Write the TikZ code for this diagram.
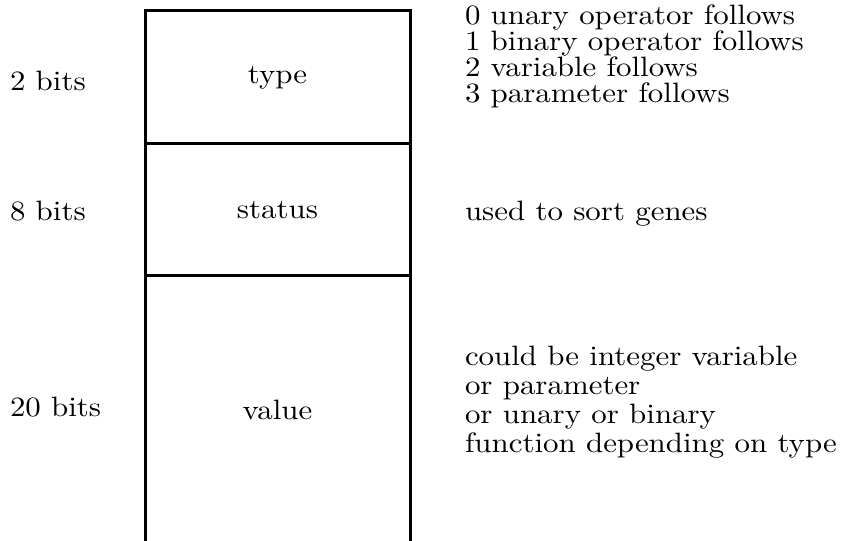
\documentclass[tikz,border=0pt]{standalone}
\begin{document}
\begin{tikzpicture}[x=1pt,y=-1pt,
  txt/.style={inner sep=0pt, outer sep=0pt, xscale=3.09, yscale=2.8, font=\fontsize{10}{12}\selectfont},
  lefttxt/.style={txt, anchor=base west},
  midtxt/.style={txt, anchor=base},
  frame/.style={line width=3pt, line join=miter}]
\useasboundingbox (0,0) rectangle (844,541);
% record frame
\coordinate (bl) at (145,545);
\coordinate (tl) at (145,10);
\coordinate (tr) at (410,10);
\coordinate (br) at (410,545);
\coordinate (d1l) at (145,143.5);
\coordinate (d1r) at (410,143.5);
\coordinate (d2l) at (145,275.5);
\coordinate (d2r) at (410,275.5);
\draw[frame] (bl) -- (tl) -- (tr) -- (br);
\draw[frame] (d1l) -- (d1r);
\draw[frame] (d2l) -- (d2r);
% field names
\node[midtxt] (ftype) at (277.5,83) {type};
\node[midtxt] (fstatus) at (277.5,218) {status};
\node[midtxt] (fvalue) at (277.5,419) {value};
% sizes
\node[lefttxt] (s1) at (10,90) {2 bits};
\node[lefttxt] (s2) at (10,220) {8 bits};
\node[lefttxt] (s3) at (10,416) {20 bits};
% descriptions
\node[lefttxt] (t0) at (465,24) {0 unary operator follows};
\node[lefttxt] (t1) at (465,50) {1 binary operator follows};
\node[lefttxt] (t2) at (465,76) {2 variable follows};
\node[lefttxt] (t3) at (465,102) {3 parameter follows};
\node[lefttxt] (u0) at (465,220) {used to sort genes};
\node[lefttxt] (v0) at (465,365) {could be integer variable};
\node[lefttxt] (v1) at (465,394) {or parameter};
\node[lefttxt] (v2) at (465,423) {or unary or binary};
\node[lefttxt] (v3) at (465,452) {function depending on type};
\end{tikzpicture}
\end{document}
